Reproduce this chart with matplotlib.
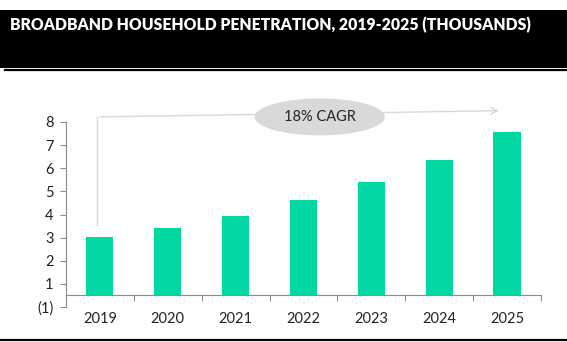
import matplotlib
matplotlib.use("Agg")
import matplotlib.pyplot as plt
from matplotlib.patches import Ellipse, Rectangle
from matplotlib.lines import Line2D

years = ["2019", "2020", "2021", "2022", "2023", "2024", "2025"]
households = [3.03, 3.42, 3.94, 4.62, 5.40, 6.35, 7.57]
ytick_vals = [0, 1, 2, 3, 4, 5, 6, 7, 8]
ytick_labels = ["(1)", "1", "2", "3", "4", "5", "6", "7", "8"]
title = "BROADBAND HOUSEHOLD PENETRATION, 2019-2025 (THOUSANDS)"
cagr_label = "18% CAGR"

plt.rcParams["font.family"] = ["Lato", "DejaVu Sans"]

W, H = 567, 342
fig = plt.figure(figsize=(W / 100, H / 100), dpi=100)

# black title band + rules
fig.patches.append(Rectangle((0, 1 - 68 / H), 1, 58 / H, transform=fig.transFigure,
                             facecolor="black", edgecolor="none"))
fig.lines.append(Line2D([5 / W, 1], [1 - 70 / H] * 2, transform=fig.transFigure,
                        color="black", lw=1.6))
fig.lines.append(Line2D([0, 1], [1 - 339.5 / H] * 2, transform=fig.transFigure,
                        color="black", lw=1.6))
fig.text(10 / W, 1 - 25 / H, title, color="white", fontsize=11.35, fontweight="heavy",
         va="center", ha="left")

ax = fig.add_axes([66 / W, 1 - 307 / H, (541 - 66) / W, (307 - 122) / H])
base = 0.5
x = list(range(len(years)))
ax.bar(x, [v - base for v in households], bottom=base, width=0.4, color="#02d8a1")

ax.set_xlim(-0.5, len(years) - 0.5)
ax.set_ylim(0, 8)
axis_col = "#8c8c8c"
for s in ["top", "right"]:
    ax.spines[s].set_visible(False)
ax.spines["left"].set_color(axis_col)
ax.spines["bottom"].set_color(axis_col)
ax.spines["bottom"].set_position(("data", base))

ax.set_yticks(ytick_vals)
ax.set_yticklabels(ytick_labels, fontsize=10.5, color="#222222")
ax.tick_params(axis="y", length=4, color=axis_col, pad=5)

ax.set_xticks([i + 0.5 for i in x[:-1]] + [len(years) - 0.5])
ax.set_xticklabels([])
ax.set_xticks(x, minor=True)
ax.set_xticklabels(years, minor=True, fontsize=10.5, color="#222222")
ax.tick_params(axis="x", which="major", length=4, color=axis_col, direction="out")
ax.tick_params(axis="x", which="minor", length=0, pad=12)

# CAGR bracket
line_col = "#d9d9d9"
x0 = x[0] - 0.04
y_top = 8.22
ax.plot([x0, x0], [households[0] + 0.5, y_top], color=line_col, lw=1, clip_on=False)
ax.annotate("", xy=(x[-1] - 0.08, y_top + 0.27), xytext=(x0, y_top),
            arrowprops=dict(arrowstyle="->", color=line_col, lw=1, mutation_scale=12),
            annotation_clip=False)
ax.add_patch(Ellipse((3.24, y_top), 1.92, 1.6, facecolor="#d9d9d9", edgecolor="none",
                     clip_on=False, zorder=3))
ax.text(3.24, y_top, cagr_label, ha="center", va="center", fontsize=10.5,
        color="#222222", zorder=4)

fig.savefig("out.png", dpi=100)
